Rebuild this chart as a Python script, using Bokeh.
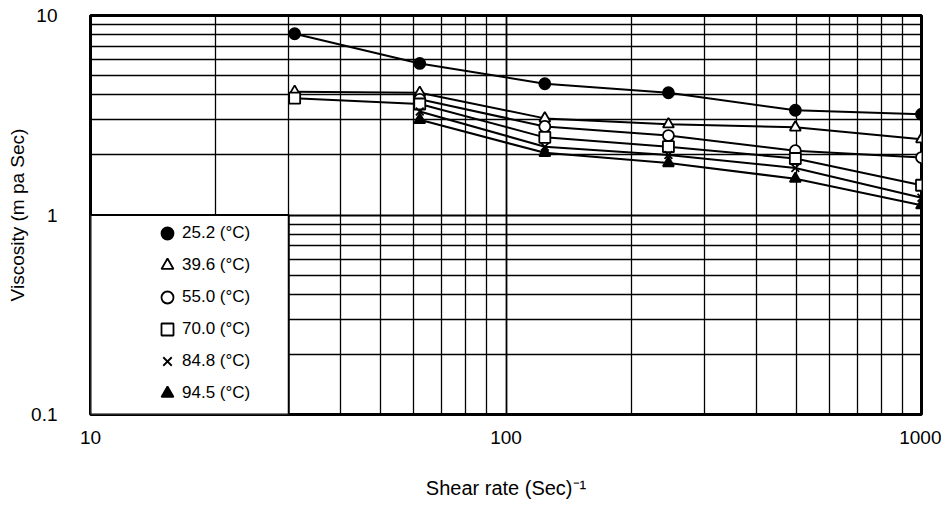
from bokeh.plotting import figure
from bokeh.models import (FixedTicker, CustomJSTickFormatter, BoxAnnotation,
                          Legend, LegendItem)
from bokeh.embed import file_html
from bokeh.resources import INLINE

# ---- data ----
shear_rate_6 = [31, 62, 124, 246, 497, 1000]
shear_rate_5 = [62, 124, 246, 497, 1000]

visc_25_2 = [8.1, 5.75, 4.55, 4.1, 3.35, 3.2]
visc_39_6 = [4.15, 4.1, 3.05, 2.85, 2.75, 2.4]
visc_55_0 = [3.8, 2.78, 2.5, 2.1, 1.94]
visc_70_0 = [3.85, 3.6, 2.45, 2.2, 1.92, 1.41]
visc_84_8 = [3.3, 2.2, 2.0, 1.72, 1.22]
visc_94_5 = [3.0, 2.05, 1.82, 1.52, 1.12]

series_labels = ["25.2 (°C)", "39.6 (°C)", "55.0 (°C)", "70.0 (°C)", "84.8 (°C)", "94.5 (°C)"]

x_major = [10, 100, 1000]
x_minor = [20, 30, 40, 50, 60, 70, 80, 90, 200, 300, 400, 500, 600, 700, 800, 900]
y_major = [0.1, 1, 10]
y_minor = [0.2, 0.3, 0.4, 0.5, 0.6, 0.7, 0.8, 0.9, 2, 3, 4, 5, 6, 7, 8, 9]

legend_box_x = (10, 30)
legend_box_y = (0.1, 1)

FONT = "Liberation Sans"

p = figure(x_axis_type="log", y_axis_type="log",
           x_range=(10, 1000), y_range=(0.1, 10),
           frame_width=831, frame_height=399,
           min_border_left=90, min_border_top=15, min_border_right=20,
           min_border_bottom=10,
           output_backend="svg", toolbar_location=None)

p.outline_line_color = "black"
p.outline_line_width = 3

# grid
for g, maj, mnr in ((p.xgrid[0], x_major, x_minor), (p.ygrid[0], y_major, y_minor)):
    g.ticker = FixedTicker(ticks=maj, minor_ticks=mnr)
    g.grid_line_color = "black"
    g.grid_line_width = 1.8
    g.grid_line_alpha = 1.0
    g.minor_grid_line_color = "black"
    g.minor_grid_line_width = 1.3

fmt = CustomJSTickFormatter(code="return String(tick);")

p.xaxis.ticker = FixedTicker(ticks=x_major)
p.yaxis.ticker = FixedTicker(ticks=y_major)
for ax in (p.xaxis[0], p.yaxis[0]):
    ax.formatter = fmt
    ax.axis_line_color = None
    ax.major_tick_line_color = None
    ax.minor_tick_line_color = None
    ax.major_label_text_font = FONT
    ax.major_label_text_font_size = "19px"
    ax.major_label_text_color = "black"
    ax.axis_label_text_font = FONT
    ax.axis_label_text_font_style = "normal"
    ax.axis_label_text_color = "black"

p.xaxis.axis_label = "Shear rate (Sec)\u207b\u00b9"
p.yaxis.axis_label = "Viscosity (m pa Sec)"
p.xaxis.axis_label_text_font_size = "20px"
p.yaxis.axis_label_text_font_size = "19px"
p.xaxis.major_label_standoff = 10
p.xaxis.axis_label_standoff = 30
p.yaxis.major_label_standoff = 27
p.yaxis.axis_label_standoff = 0

# legend box (white panel covering the lower-left grid cells)
box = BoxAnnotation(left=legend_box_x[0], right=legend_box_x[1],
                    bottom=legend_box_y[0], top=legend_box_y[1],
                    fill_color="white", fill_alpha=1.0,
                    line_color="black", line_width=2, line_alpha=1.0)
p.add_layout(box)

LW = 2
MS = 11
series = [
    (shear_rate_6, visc_25_2, "circle", "black"),
    (shear_rate_6, visc_39_6, "triangle", "white"),
    (shear_rate_5, visc_55_0, "circle", "white"),
    (shear_rate_6, visc_70_0, "square", "white"),
    (shear_rate_5, visc_84_8, "x", "black"),
    (shear_rate_5, visc_94_5, "triangle", "black"),
]

items = []
for (xs, ys, marker, fill), lab in zip(series, series_labels):
    p.line(xs, ys, line_color="black", line_width=LW)
    r = p.scatter(xs, ys, marker=marker, size=MS, fill_color=fill,
                  line_color="black", line_width=1.8)
    items.append(LegendItem(label=lab, renderers=[r]))

legend = Legend(items=items, location=(62, 5), orientation="vertical",
                padding=0, margin=0, spacing=0,
                glyph_width=30, glyph_height=32, label_height=32,
                label_standoff=0,
                label_text_font=FONT, label_text_font_size="17px",
                label_text_color="black",
                border_line_color=None, background_fill_alpha=0.0)
p.add_layout(legend)

open("out.html", "w").write(file_html(p, INLINE))
